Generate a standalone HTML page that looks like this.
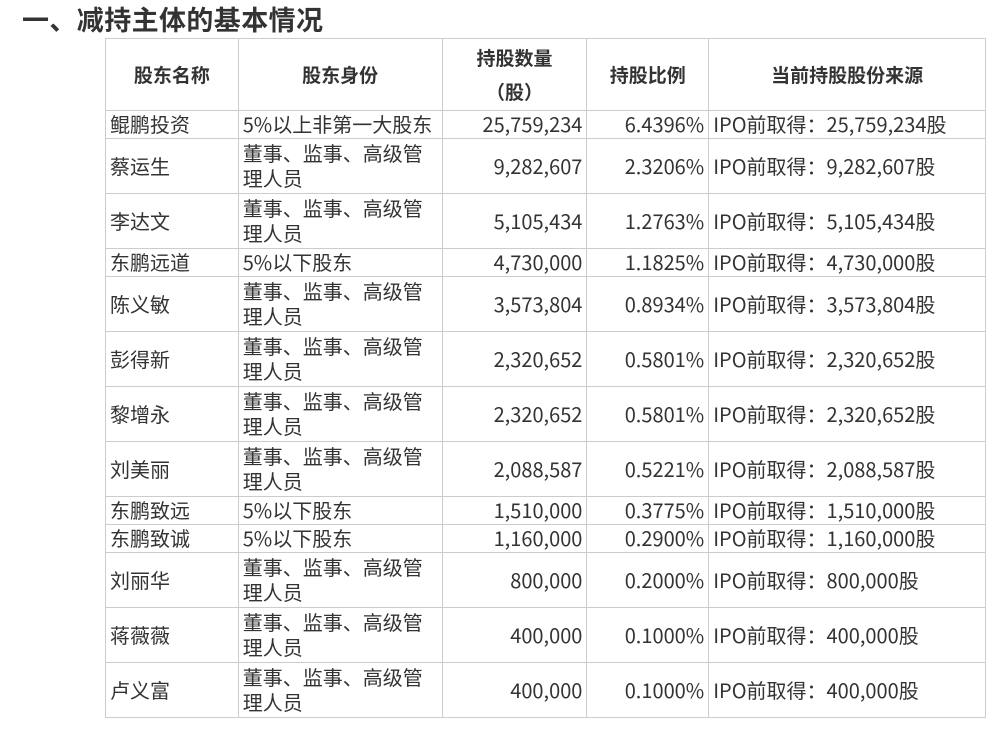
<!DOCTYPE html>
<html><head><meta charset="utf-8"><style>
body{margin:0;background:#fff;font-family:"Noto Sans CJK SC","Liberation Sans",sans-serif;color:#333;width:986px;height:733px;overflow:hidden;position:relative}
h1{position:absolute;left:22px;top:1px;margin:0;font-size:27px;font-weight:bold;line-height:36px;color:#333;letter-spacing:0.4px}
table{position:absolute;left:105px;top:38px;border-collapse:collapse;table-layout:fixed;font-size:20px}
td,th{border:1px solid #ccc;padding:0 4px;line-height:25px;vertical-align:middle;overflow:hidden;white-space:nowrap}
td{padding-bottom:2px}
th{font-weight:bold;text-align:center;line-height:34px;font-size:19px}
td.r{text-align:right}
td.w{white-space:normal}
</style></head><body>
<h1>一、减持主体的基本情况</h1>
<table>
<colgroup><col style="width:133px"><col style="width:204px"><col style="width:145px"><col style="width:122px"><col style="width:277px"></colgroup>
<tr style="height:72px"><th>股东名称</th><th>股东身份</th><th>持股数量<br>（股）</th><th>持股比例</th><th>当前持股股份来源</th></tr>
<tr style="height:28px"><td>鲲鹏投资</td><td>5%以上非第一大股东</td><td class="r">25,759,234</td><td class="r">6.4396%</td><td>IPO前取得：25,759,234股</td></tr>
<tr style="height:55px"><td>蔡运生</td><td class="w">董事、监事、高级管理人员</td><td class="r">9,282,607</td><td class="r">2.3206%</td><td>IPO前取得：9,282,607股</td></tr>
<tr style="height:55px"><td>李达文</td><td class="w">董事、监事、高级管理人员</td><td class="r">5,105,434</td><td class="r">1.2763%</td><td>IPO前取得：5,105,434股</td></tr>
<tr style="height:28px"><td>东鹏远道</td><td>5%以下股东</td><td class="r">4,730,000</td><td class="r">1.1825%</td><td>IPO前取得：4,730,000股</td></tr>
<tr style="height:55px"><td>陈义敏</td><td class="w">董事、监事、高级管理人员</td><td class="r">3,573,804</td><td class="r">0.8934%</td><td>IPO前取得：3,573,804股</td></tr>
<tr style="height:55px"><td>彭得新</td><td class="w">董事、监事、高级管理人员</td><td class="r">2,320,652</td><td class="r">0.5801%</td><td>IPO前取得：2,320,652股</td></tr>
<tr style="height:55px"><td>黎增永</td><td class="w">董事、监事、高级管理人员</td><td class="r">2,320,652</td><td class="r">0.5801%</td><td>IPO前取得：2,320,652股</td></tr>
<tr style="height:55px"><td>刘美丽</td><td class="w">董事、监事、高级管理人员</td><td class="r">2,088,587</td><td class="r">0.5221%</td><td>IPO前取得：2,088,587股</td></tr>
<tr style="height:28px"><td>东鹏致远</td><td>5%以下股东</td><td class="r">1,510,000</td><td class="r">0.3775%</td><td>IPO前取得：1,510,000股</td></tr>
<tr style="height:28px"><td>东鹏致诚</td><td>5%以下股东</td><td class="r">1,160,000</td><td class="r">0.2900%</td><td>IPO前取得：1,160,000股</td></tr>
<tr style="height:55px"><td>刘丽华</td><td class="w">董事、监事、高级管理人员</td><td class="r">800,000</td><td class="r">0.2000%</td><td>IPO前取得：800,000股</td></tr>
<tr style="height:55px"><td>蒋薇薇</td><td class="w">董事、监事、高级管理人员</td><td class="r">400,000</td><td class="r">0.1000%</td><td>IPO前取得：400,000股</td></tr>
<tr style="height:55px"><td>卢义富</td><td class="w">董事、监事、高级管理人员</td><td class="r">400,000</td><td class="r">0.1000%</td><td>IPO前取得：400,000股</td></tr>
</table>
</body></html>
